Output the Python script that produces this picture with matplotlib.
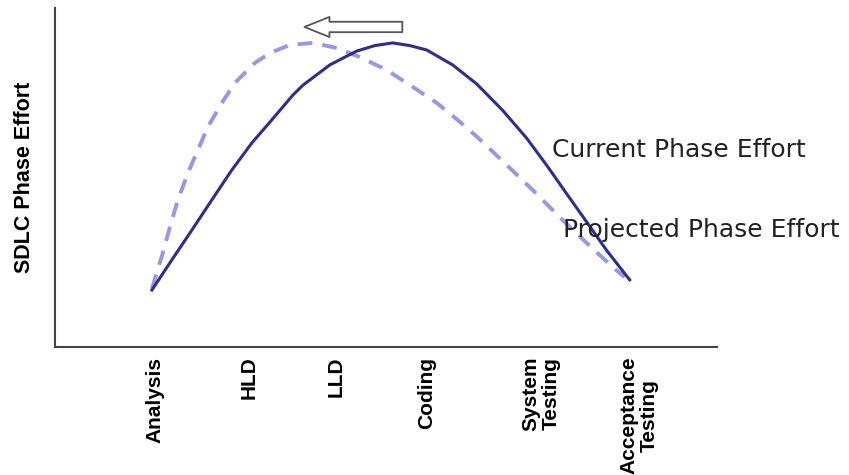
import matplotlib
matplotlib.use("Agg")
import matplotlib.pyplot as plt

# phases on x, effort on y (0-100 scale)
phases = ["Analysis", "HLD", "LLD", "Coding", "System\nTesting", "Acceptance\nTesting"]
phase_pos = [0.03, 1.01, 1.92, 2.86, 4.06, 5.08]

current_x = [0, 0.208, 0.417, 0.625, 0.833, 1.042, 1.25, 1.469, 1.573, 1.854, 2.135, 2.323,
             2.51, 2.69, 2.865, 3.135, 3.385, 3.656, 3.906, 4.115, 4.323, 4.531, 4.74, 4.98]
current_y = [16.8, 25.7, 34.5, 43.4, 52.2, 60.2, 67.0, 74.3, 77.2, 83.2, 87.3, 88.9,
             89.7, 88.9, 87.6, 83.2, 77.6, 69.8, 61.6, 53.6, 45.2, 36.9, 28.5, 19.8]

projected_x = [0, 0.104, 0.1875, 0.271, 0.375, 0.479, 0.583, 0.729, 0.865, 1.073, 1.229, 1.4375,
               1.677, 1.927, 2.167, 2.448, 2.719, 2.969, 3.177, 3.385, 3.698, 3.969, 4.25,
               4.531, 4.802, 4.927]
projected_y = [17.2, 26.8, 35.4, 43.4, 51.3, 58.1, 64.9, 72.0, 77.9, 83.8, 86.7, 89.1,
               89.7, 88.2, 85.5, 81.7, 76.7, 72.0, 67.2, 62.1, 53.7, 46.3, 38.3,
               30.7, 23.6, 20.6]

fig = plt.figure(figsize=(8.49, 4.75), dpi=100)
ax = fig.add_axes([0.0648, 0.2695, 0.7797, 0.7137])

ax.plot(projected_x, projected_y, color="#9898e2", lw=2.8, linestyle=(0, (3.8, 2.6)),
        zorder=2)
ax.plot(current_x, current_y, color="#2f2f8a", lw=2.2, zorder=3)

ax.set_xlim(-1.01, 5.89)
ax.set_ylim(0, 100)

for side in ["top", "right"]:
    ax.spines[side].set_visible(False)
for side in ["left", "bottom"]:
    ax.spines[side].set_color("#444444")
    ax.spines[side].set_linewidth(1.5)

ax.set_yticks([])
ax.set_xticks(phase_pos)
ax.set_xticklabels(phases, rotation=90, va="top", ha="center", multialignment="center",
                   family="Liberation Sans", fontweight="bold", fontsize=15, linespacing=1.1)
ax.tick_params(axis="x", length=0, pad=7)

fig.text(25 / 849, 1 - 177 / 475, "SDLC Phase Effort", rotation=90, ha="center", va="center",
         family="Liberation Sans", fontweight="bold", fontsize=15.5)

ax.text(4.17, 58.0, "Current Phase Effort", fontsize=18, color="#222222",
        ha="left", va="center", family="DejaVu Sans")
ax.text(4.29, 34.5, "Projected Phase Effort", fontsize=18, color="#222222",
        ha="left", va="center", family="DejaVu Sans")

# hollow arrow showing the shift of the peak to the left
ax.annotate("", xy=(1.59, 94.4), xytext=(2.61, 94.4),
            arrowprops=dict(arrowstyle="simple,head_length=18,head_width=14.5,tail_width=7.5",
                            mutation_scale=1, fc="white", ec="#555555", lw=1.3,
                            shrinkA=0, shrinkB=0))

fig.savefig("out.png", dpi=100)
